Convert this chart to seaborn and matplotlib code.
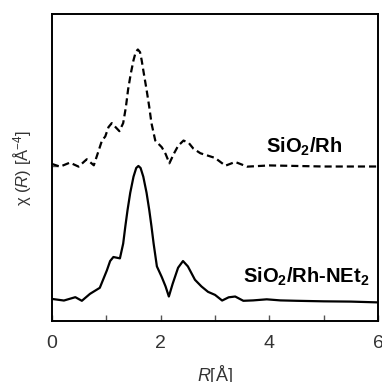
import matplotlib
matplotlib.use("Agg")
import matplotlib.pyplot as plt
import seaborn as sns
import pandas as pd

# SiO2/Rh-NEt2 (solid)
r_solid = [0.00, 0.22, 0.43, 0.55, 0.70, 0.80, 0.88, 0.95, 1.01, 1.07, 1.13, 1.19,
           1.25, 1.31, 1.35, 1.39, 1.44, 1.50, 1.55, 1.59, 1.63, 1.68, 1.74, 1.79,
           1.83, 1.87, 1.93, 2.02, 2.09, 2.15, 2.22, 2.32, 2.41, 2.50, 2.63, 2.75,
           2.87, 3.00, 3.13, 3.25, 3.37, 3.52, 3.70, 3.95, 4.20, 4.50, 5.00, 5.50, 6.00]
y_solid = [0.007, -0.005, 0.020, -0.007, 0.045, 0.070, 0.090, 0.160, 0.220, 0.290,
           0.320, 0.315, 0.310, 0.420, 0.550, 0.670, 0.800, 0.920, 0.985, 1.000,
           0.985, 0.920, 0.800, 0.670, 0.550, 0.420, 0.250, 0.170, 0.100, 0.025,
           0.120, 0.240, 0.290, 0.250, 0.150, 0.100, 0.060, 0.037, -0.005, 0.019,
           0.025, -0.007, -0.004, 0.004, -0.004, -0.007, -0.011, -0.013, -0.019]

# SiO2/Rh (dashed), relative to its own baseline
r_dash = [0.00, 0.15, 0.33, 0.49, 0.64, 0.77, 0.92, 0.98, 1.04, 1.10, 1.17, 1.24,
          1.31, 1.36, 1.40, 1.45, 1.50, 1.54, 1.58, 1.62, 1.65, 1.69, 1.74, 1.79,
          1.83, 1.90, 2.02, 2.09, 2.16, 2.24, 2.32, 2.42, 2.52, 2.60, 2.73, 3.00,
          3.19, 3.37, 3.59, 4.00, 4.50, 5.00, 6.00]
y_dash = [0.015, -0.005, 0.025, -0.005, 0.050, 0.005, 0.190, 0.220, 0.290, 0.320,
          0.290, 0.260, 0.320, 0.440, 0.570, 0.690, 0.790, 0.850, 0.870, 0.850,
          0.790, 0.690, 0.570, 0.440, 0.320, 0.190, 0.140, 0.090, 0.020, 0.090,
          0.150, 0.190, 0.170, 0.130, 0.095, 0.060, 0.002, 0.030, -0.005, 0.004,
          0.000, -0.004, -0.004]
dash_offset = 1.0

labels = ["SiO$_\\mathbf{2}$/Rh", "SiO$_\\mathbf{2}$/Rh-NEt$_\\mathbf{2}$"]
x_ticks = [0, 1, 2, 3, 4, 5, 6]
x_ticklabels = ["0", "", "2", "", "4", "", "6"]

sns.set_theme(style="white")
plt.rcParams["font.family"] = ["Liberation Sans", "DejaVu Sans"]
plt.rcParams["mathtext.fontset"] = "custom"
plt.rcParams["mathtext.rm"] = "Liberation Sans"
plt.rcParams["mathtext.it"] = "Liberation Sans:italic"
plt.rcParams["mathtext.bf"] = "Liberation Sans:bold"

fig = plt.figure(figsize=(3.82, 3.82), dpi=100)
ax = fig.add_axes([0.136, 0.160, 0.854, 0.803])

df_s = pd.DataFrame({"R": r_solid, "chi": y_solid})
df_d = pd.DataFrame({"R": r_dash, "chi": [v + dash_offset for v in y_dash]})

sns.lineplot(data=df_d, x="R", y="chi", ax=ax, color="black", lw=1.6,
             linestyle=(0, (3.2, 1.8)), sort=False)
sns.lineplot(data=df_s, x="R", y="chi", ax=ax, color="black", lw=1.6, sort=False)

ax.set_xlim(0, 6)
ax.set_ylim(-0.157, 2.134)
ax.set_xticks(x_ticks)
ax.set_xticklabels(x_ticklabels)
ax.set_yticks([dash_offset])
ax.set_yticklabels([])
ax.tick_params(axis="both", direction="in", length=4, width=1.0, color="#555555",
               bottom=True, left=True, labelsize=14, labelcolor="#333333", pad=10)

for s in ax.spines.values():
    s.set_visible(True)
    s.set_color("black")
    s.set_linewidth(1.4)

ax.set_xlabel("$\\it{R}$[Å]", fontsize=13, color="#333333", labelpad=8)
ax.set_ylabel("χ ($\\it{R}$) [Å$^{-4}$]", fontsize=12, color="#333333", labelpad=3)

ax.text(0.891, 0.566, labels[0], transform=ax.transAxes, ha="right", va="center",
        fontsize=14.5, fontweight="bold", color="black")
ax.text(0.972, 0.142, labels[1], transform=ax.transAxes, ha="right", va="center",
        fontsize=14.5, fontweight="bold", color="black")

fig.savefig("out.png", dpi=100)
